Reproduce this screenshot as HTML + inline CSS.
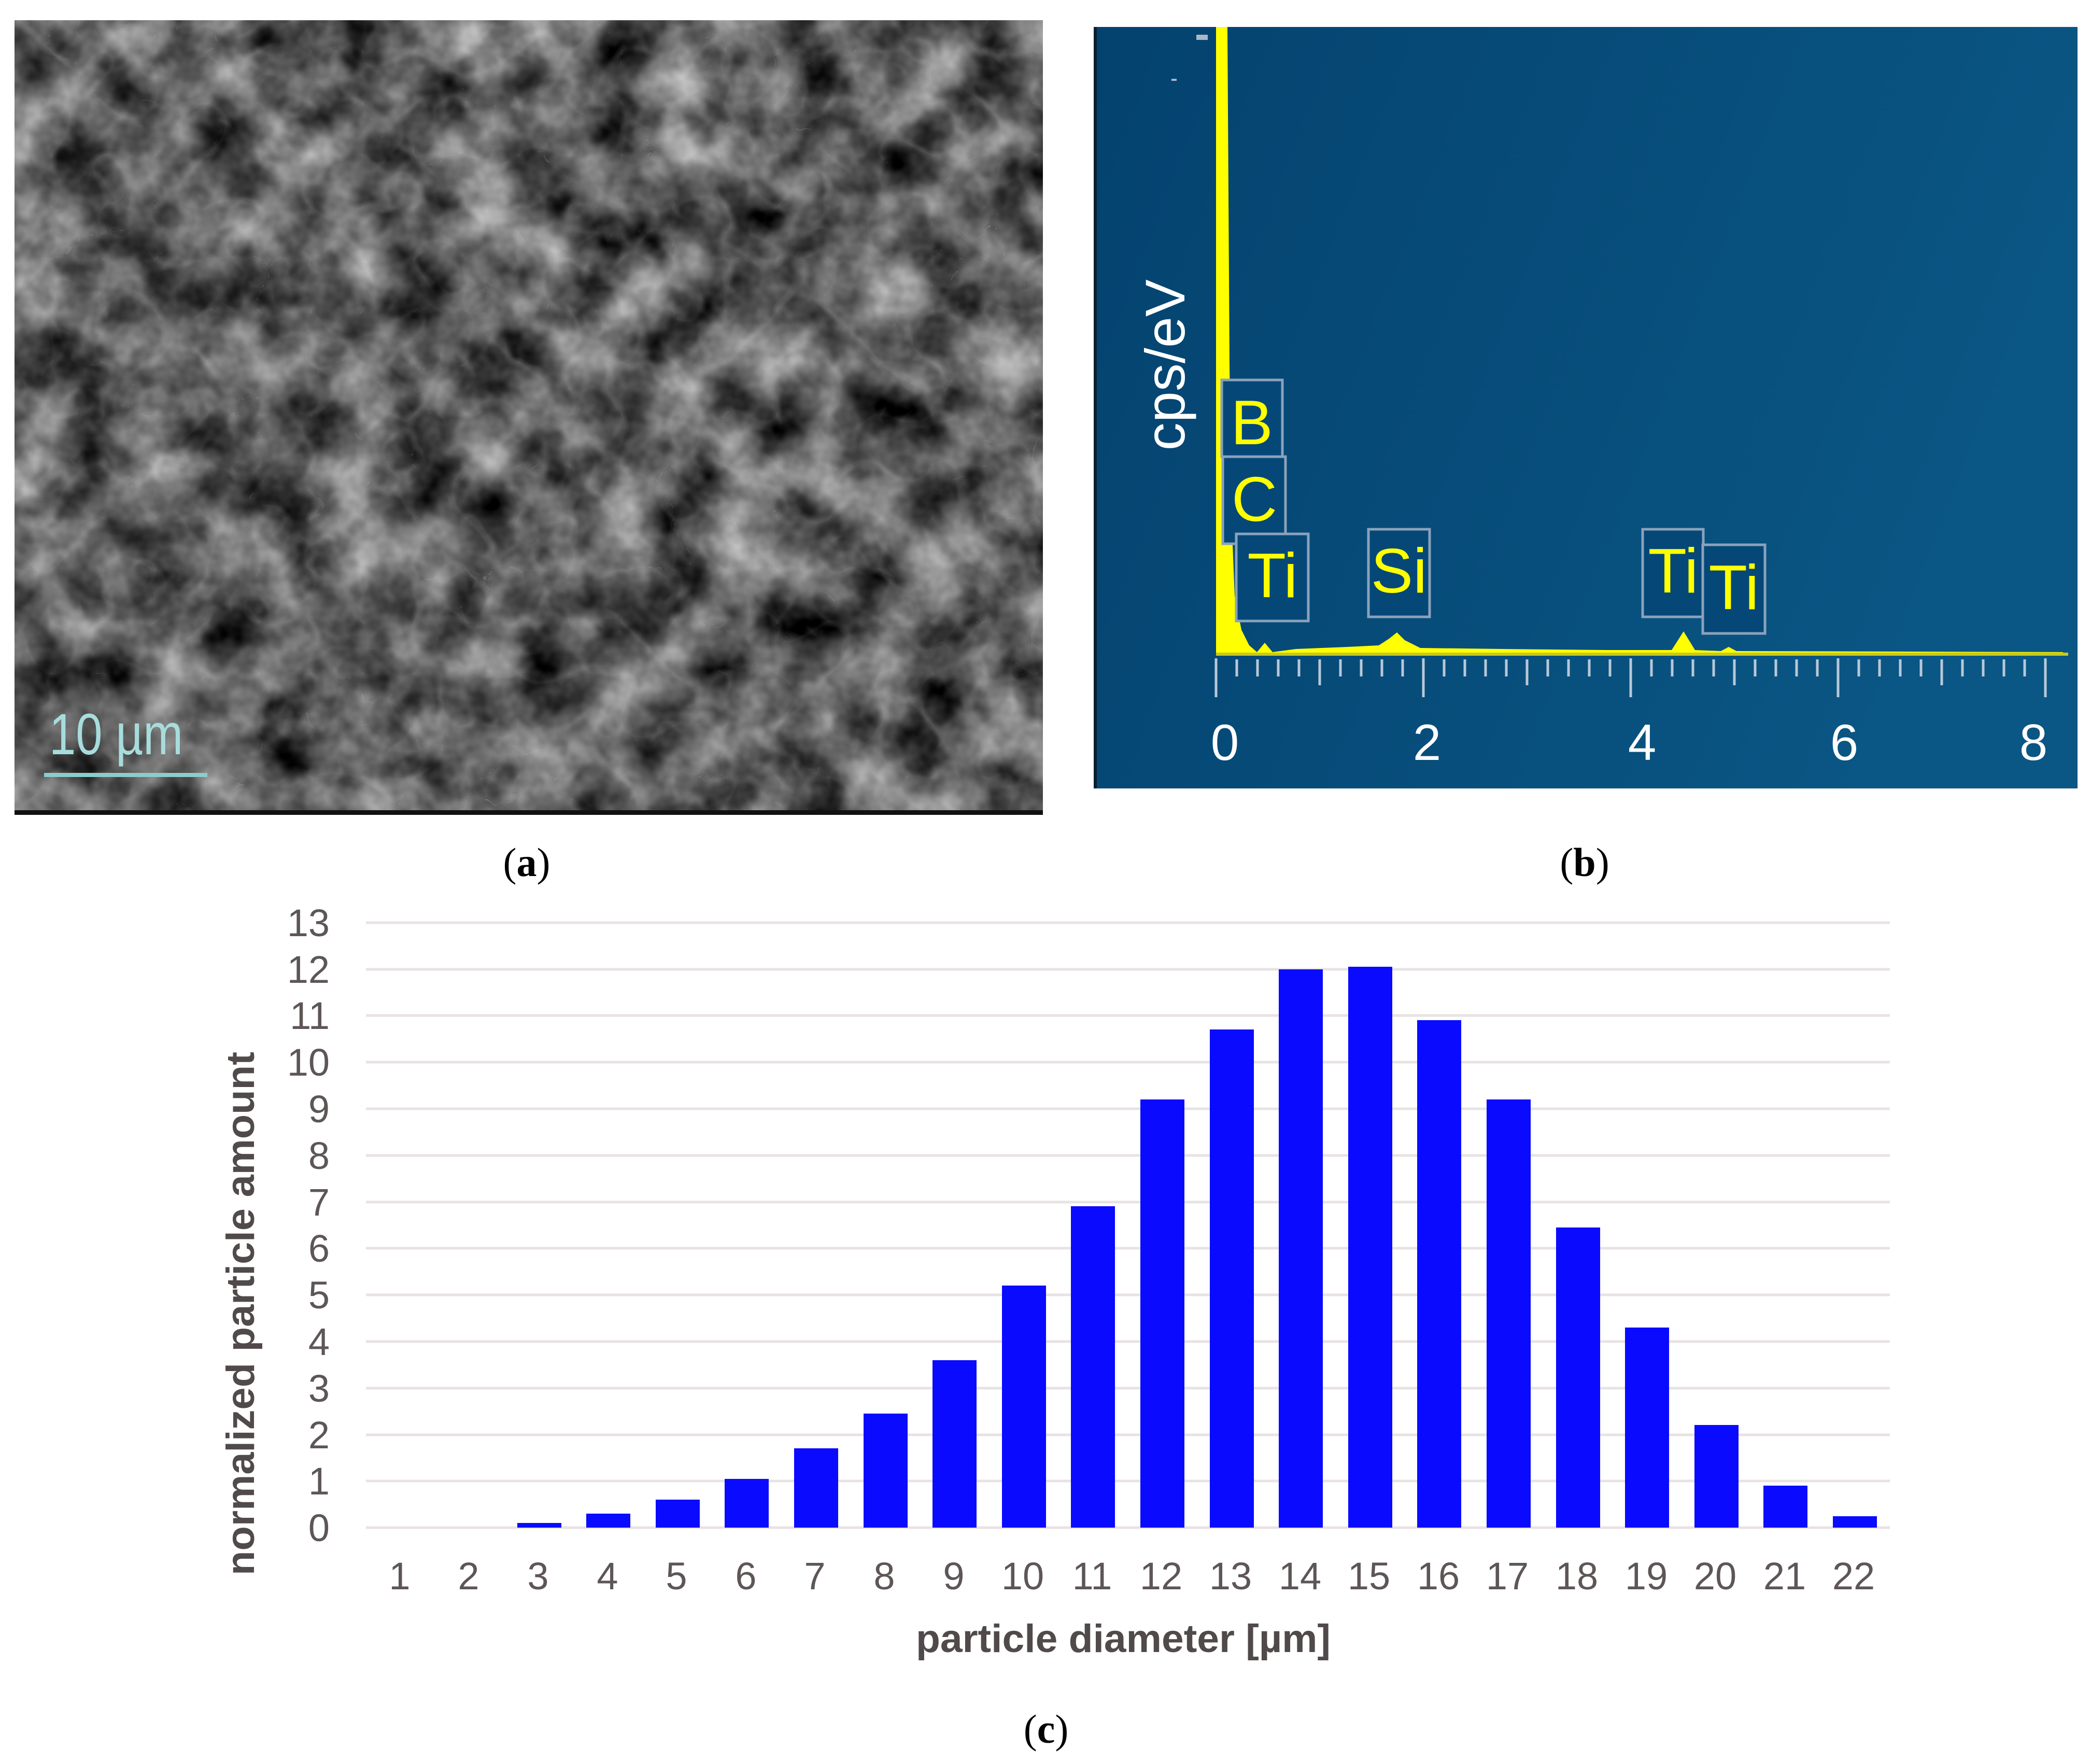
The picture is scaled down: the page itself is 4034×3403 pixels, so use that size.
<!DOCTYPE html>
<html><head><meta charset="utf-8"><style>
html,body{margin:0;padding:0;background:#fff;}
svg{display:block;}
</style></head><body>
<svg xmlns="http://www.w3.org/2000/svg" width="4034" height="3403" viewBox="0 0 4034 3403">
<defs>
<filter id="sem" x="0" y="0" width="100%" height="100%" color-interpolation-filters="sRGB">
<feTurbulence type="fractalNoise" baseFrequency="0.008" numOctaves="4" seed="7" result="n"/>
<feColorMatrix in="n" type="matrix" values="1.1 0 0 0 -0.2  1.1 0 0 0 -0.2  1.1 0 0 0 -0.2  0 0 0 0 1"/>
</filter>
<filter id="edge" x="0" y="0" width="100%" height="100%" color-interpolation-filters="sRGB">
<feTurbulence type="turbulence" baseFrequency="0.01" numOctaves="2" seed="3" result="t"/>
<feColorMatrix in="t" type="matrix" values="0 0 0 0 1  0 0 0 0 1  0 0 0 0 1  -2.5 0 0 0 0.6"/>
</filter>
<linearGradient id="bg" x1="0" y1="0" x2="1" y2="0.3">
<stop offset="0" stop-color="#04426f"/><stop offset="1" stop-color="#0a5684"/>
</linearGradient>
</defs>

<!-- panel a -->
<rect x="28" y="39" width="1984" height="1532" fill="#4a4a4a"/>
<rect x="28" y="39" width="1984" height="1524" filter="url(#sem)"/>
<rect x="28" y="39" width="1984" height="1524" filter="url(#edge)" opacity="0.25"/>
<rect x="28" y="1563" width="1984" height="9" fill="#111"/>
<text x="95" y="1455" font-family="Liberation Sans, sans-serif" font-size="112" fill="#a8dcdc" textLength="258" lengthAdjust="spacingAndGlyphs">10 µm</text>
<rect x="85" y="1491" width="315" height="8" fill="#8ccccc"/>

<!-- panel b -->
<rect x="2110" y="52" width="1898" height="1469" fill="url(#bg)"/>
<rect x="2110" y="52" width="6" height="1469" fill="#0a2030"/>
<rect x="2308" y="67" width="22" height="10" fill="#aab8c8"/>
<rect x="2260" y="152" width="10" height="4" fill="#aab8c8"/>
<text transform="translate(2285,704) rotate(-90)" text-anchor="middle" font-family="Liberation Sans, sans-serif" font-size="108" fill="#fff">cps/eV</text>
<path d="M2346 1262 L2346 52 L2368 52 L2372 700 L2376 1000 L2382 1150 L2395 1215 L2410 1245 L2425 1258 L2440 1240 L2455 1258 L2500 1252 L2600 1248 L2660 1245 L2680 1232 L2695 1220 L2710 1235 L2740 1250 L2900 1252 L3100 1254 L3225 1254 L3248 1218 L3270 1254 L3320 1256 L3335 1248 L3350 1256 L3980 1258 L3980 1264 L2346 1264 Z" fill="#ffff00"/>
<line x1="2346" y1="1262" x2="3990" y2="1262" stroke="#c8c820" stroke-width="6"/>
<g stroke="#b8c8d8" stroke-width="5">
<line x1="2346" y1="1270" x2="2346" y2="1345"/><line x1="2746" y1="1270" x2="2746" y2="1345"/><line x1="3146" y1="1270" x2="3146" y2="1345"/><line x1="3546" y1="1270" x2="3546" y2="1345"/><line x1="3946" y1="1270" x2="3946" y2="1345"/>
<line x1="2386" y1="1272" x2="2386" y2="1305"/><line x1="2426" y1="1272" x2="2426" y2="1305"/><line x1="2466" y1="1272" x2="2466" y2="1305"/><line x1="2506" y1="1272" x2="2506" y2="1305"/><line x1="2546" y1="1272" x2="2546" y2="1322"/><line x1="2586" y1="1272" x2="2586" y2="1305"/><line x1="2626" y1="1272" x2="2626" y2="1305"/><line x1="2666" y1="1272" x2="2666" y2="1305"/><line x1="2706" y1="1272" x2="2706" y2="1305"/>
<line x1="2786" y1="1272" x2="2786" y2="1305"/><line x1="2826" y1="1272" x2="2826" y2="1305"/><line x1="2866" y1="1272" x2="2866" y2="1305"/><line x1="2906" y1="1272" x2="2906" y2="1305"/><line x1="2946" y1="1272" x2="2946" y2="1322"/><line x1="2986" y1="1272" x2="2986" y2="1305"/><line x1="3026" y1="1272" x2="3026" y2="1305"/><line x1="3066" y1="1272" x2="3066" y2="1305"/><line x1="3106" y1="1272" x2="3106" y2="1305"/>
<line x1="3186" y1="1272" x2="3186" y2="1305"/><line x1="3226" y1="1272" x2="3226" y2="1305"/><line x1="3266" y1="1272" x2="3266" y2="1305"/><line x1="3306" y1="1272" x2="3306" y2="1305"/><line x1="3346" y1="1272" x2="3346" y2="1322"/><line x1="3386" y1="1272" x2="3386" y2="1305"/><line x1="3426" y1="1272" x2="3426" y2="1305"/><line x1="3466" y1="1272" x2="3466" y2="1305"/><line x1="3506" y1="1272" x2="3506" y2="1305"/>
<line x1="3586" y1="1272" x2="3586" y2="1305"/><line x1="3626" y1="1272" x2="3626" y2="1305"/><line x1="3666" y1="1272" x2="3666" y2="1305"/><line x1="3706" y1="1272" x2="3706" y2="1305"/><line x1="3746" y1="1272" x2="3746" y2="1322"/><line x1="3786" y1="1272" x2="3786" y2="1305"/><line x1="3826" y1="1272" x2="3826" y2="1305"/><line x1="3866" y1="1272" x2="3866" y2="1305"/><line x1="3906" y1="1272" x2="3906" y2="1305"/>
</g>
<g font-family="Liberation Sans, sans-serif" font-size="98" fill="#fff" text-anchor="middle">
<text x="2363" y="1466">0</text><text x="2753" y="1466">2</text><text x="3168" y="1466">4</text><text x="3558" y="1466">6</text><text x="3923" y="1466">8</text>
</g>
<g fill="#054878" stroke="#8aa2bc" stroke-width="5">
<rect x="2357" y="733" width="117" height="148"/>
<rect x="2359" y="881" width="121" height="168"/>
<rect x="2385" y="1030" width="139" height="168"/>
<rect x="2640" y="1021" width="118" height="169"/>
<rect x="3169" y="1021" width="117" height="169"/>
<rect x="3285" y="1051" width="120" height="171"/>
</g>
<g font-family="Liberation Sans, sans-serif" font-size="122" fill="#ffff00" text-anchor="middle">
<text x="2415" y="857">B</text><text x="2420" y="1005">C</text><text x="2455" y="1152">Ti</text><text x="2699" y="1143">Si</text><text x="3228" y="1143">Ti</text><text x="3345" y="1175">Ti</text>
</g>

<!-- captions -->
<g font-family="Liberation Serif, serif" font-size="78" fill="#000" text-anchor="middle">
<text x="1016" y="1690">(<tspan font-weight="bold">a</tspan>)</text>
<text x="3057" y="1690">(<tspan font-weight="bold">b</tspan>)</text>
<text x="2018" y="3362">(<tspan font-weight="bold">c</tspan>)</text>
</g>

<!-- chart c -->
<g stroke="#e8e2e2" stroke-width="5">
<line x1="706" y1="1780" x2="3646" y2="1780"/><line x1="706" y1="1870" x2="3646" y2="1870"/><line x1="706" y1="1959" x2="3646" y2="1959"/><line x1="706" y1="2049" x2="3646" y2="2049"/><line x1="706" y1="2139" x2="3646" y2="2139"/><line x1="706" y1="2229" x2="3646" y2="2229"/><line x1="706" y1="2319" x2="3646" y2="2319"/><line x1="706" y1="2408" x2="3646" y2="2408"/><line x1="706" y1="2498" x2="3646" y2="2498"/><line x1="706" y1="2588" x2="3646" y2="2588"/><line x1="706" y1="2678" x2="3646" y2="2678"/><line x1="706" y1="2768" x2="3646" y2="2768"/><line x1="706" y1="2857" x2="3646" y2="2857"/><line x1="706" y1="2947" x2="3646" y2="2947"/>
</g>
<g fill="#0a0aff">
<rect x="998" y="2938" width="85" height="9"/>
<rect x="1131" y="2920" width="85" height="27"/>
<rect x="1265" y="2893" width="85" height="54"/>
<rect x="1398" y="2853" width="85" height="94"/>
<rect x="1532" y="2794" width="85" height="153"/>
<rect x="1666" y="2727" width="85" height="220"/>
<rect x="1799" y="2624" width="85" height="323"/>
<rect x="1933" y="2480" width="85" height="467"/>
<rect x="2066" y="2327" width="85" height="620"/>
<rect x="2200" y="2121" width="85" height="826"/>
<rect x="2334" y="1986" width="85" height="961"/>
<rect x="2467" y="1870" width="85" height="1077"/>
<rect x="2601" y="1865" width="85" height="1082"/>
<rect x="2734" y="1968" width="85" height="979"/>
<rect x="2868" y="2121" width="85" height="826"/>
<rect x="3002" y="2368" width="85" height="579"/>
<rect x="3135" y="2561" width="85" height="386"/>
<rect x="3269" y="2749" width="85" height="198"/>
<rect x="3402" y="2866" width="85" height="81"/>
<rect x="3536" y="2925" width="85" height="22"/>
</g>
<g font-family="Liberation Sans, sans-serif" font-size="74" fill="#5e5656" text-anchor="end">
<text x="636" y="1806">13</text><text x="636" y="1896">12</text><text x="636" y="1985">11</text><text x="636" y="2075">10</text><text x="636" y="2165">9</text><text x="636" y="2255">8</text><text x="636" y="2345">7</text><text x="636" y="2434">6</text><text x="636" y="2524">5</text><text x="636" y="2614">4</text><text x="636" y="2704">3</text><text x="636" y="2794">2</text><text x="636" y="2883">1</text><text x="636" y="2973">0</text>
</g>
<g font-family="Liberation Sans, sans-serif" font-size="74" fill="#5e5656" text-anchor="middle">
<text x="771" y="3066">1</text><text x="904" y="3066">2</text><text x="1038" y="3066">3</text><text x="1172" y="3066">4</text><text x="1305" y="3066">5</text><text x="1439" y="3066">6</text><text x="1572" y="3066">7</text><text x="1706" y="3066">8</text><text x="1840" y="3066">9</text><text x="1973" y="3066">10</text><text x="2107" y="3066">11</text><text x="2240" y="3066">12</text><text x="2374" y="3066">13</text><text x="2508" y="3066">14</text><text x="2641" y="3066">15</text><text x="2775" y="3066">16</text><text x="2908" y="3066">17</text><text x="3042" y="3066">18</text><text x="3176" y="3066">19</text><text x="3309" y="3066">20</text><text x="3443" y="3066">21</text><text x="3576" y="3066">22</text>
</g>
<text x="1767" y="3187" font-family="Liberation Sans, sans-serif" font-weight="bold" font-size="76" fill="#514a4a" textLength="800" lengthAdjust="spacingAndGlyphs">particle diameter [µm]</text>
<text transform="translate(490,2534) rotate(-90)" text-anchor="middle" font-family="Liberation Sans, sans-serif" font-weight="bold" font-size="76" fill="#514a4a" textLength="1010" lengthAdjust="spacingAndGlyphs">normalized particle amount</text>
</svg>
</body></html>
